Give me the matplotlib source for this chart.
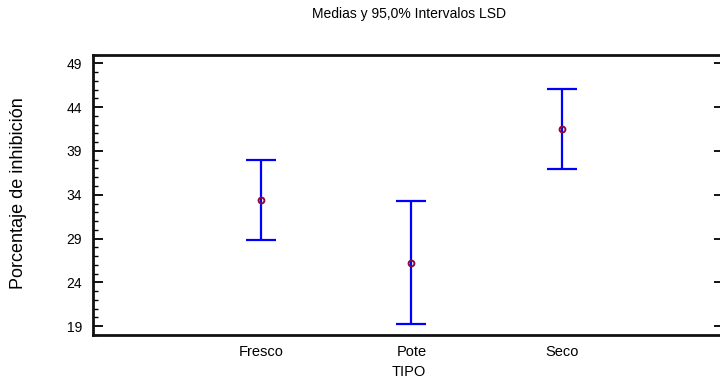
import matplotlib
matplotlib.use("Agg")
import matplotlib.pyplot as plt
from matplotlib.ticker import MultipleLocator, FixedLocator

plt.rcParams['font.family'] = ['Liberation Sans', 'DejaVu Sans']

# Group means and 95% LSD half-widths
tipos = ["Fresco", "Pote", "Seco"]
medias = [33.40, 26.27, 41.50]
semi_lsd = [4.56, 7.02, 4.56]
y_ticks = [19, 24, 29, 34, 39, 44, 49]

W, H = 720, 383
fig = plt.figure(figsize=(W / 100, H / 100), dpi=100)
left, right, top, bottom = 93, 724, 54.5, 335
ax = fig.add_axes([left / W, (H - bottom) / H, (right - left) / W, (bottom - top) / H])

xs = list(range(1, len(tipos) + 1))
ax.errorbar(xs, medias, yerr=semi_lsd, fmt='none', ecolor='#0000ff',
            elinewidth=1.6, capsize=10.8, capthick=1.6, zorder=2)
ax.plot(xs, medias, linestyle='none', marker='o', markersize=4.2,
        markerfacecolor='none', markeredgecolor='#8b0a3c', markeredgewidth=1.4, zorder=3)

ax.set_xlim(-0.116, 4.077)
ax.set_ylim(18, 50)

ax.set_xticks(xs)
ax.set_xticklabels(tipos, fontsize=10.5)
ax.tick_params(axis='x', length=0, pad=7)

ax.yaxis.set_major_locator(FixedLocator(y_ticks))
ax.yaxis.set_minor_locator(MultipleLocator(1))
ax.tick_params(axis='y', which='major', direction='in', length=7, width=1.3,
               right=True, labelsize=10, pad=8)
ax.tick_params(axis='y', which='minor', direction='in', length=3.5, width=1.0,
               right=False)

for s in ax.spines.values():
    s.set_linewidth(2.0)
    s.set_color('#111111')

ax.set_xlabel("TIPO", fontsize=10.5, labelpad=4.5)
fig.text(19 / W, 1 - 193.5 / H, "Porcentaje de inhibición", rotation=90,
         ha='center', va='center', fontsize=13)
fig.text(409 / W, 1 - 14 / H, "Medias y 95,0% Intervalos LSD", ha='center', va='center', fontsize=10)

fig.savefig("out.png", dpi=100)
